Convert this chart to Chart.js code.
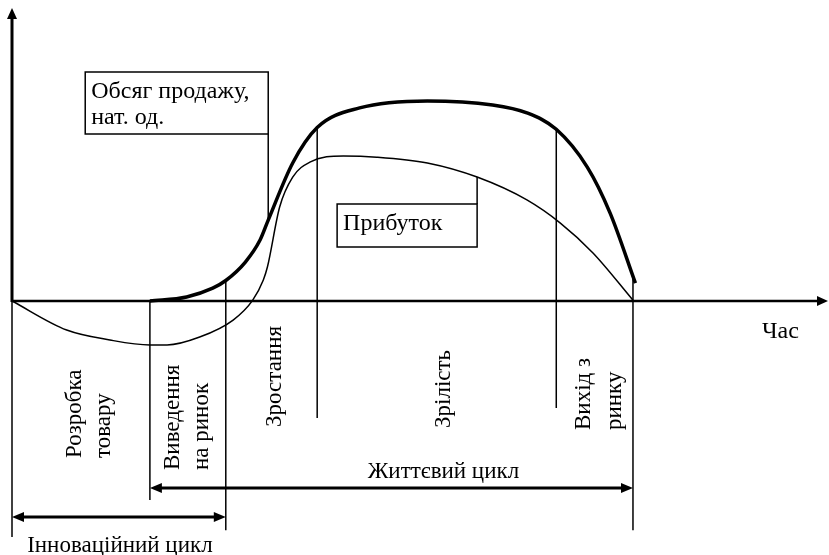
<!DOCTYPE html>
<html>
<head>
<meta charset="utf-8">
<script src="https://cdn.jsdelivr.net/npm/chart.js@4.4.0/dist/chart.umd.min.js"></script>
<style>
html, body { margin: 0; padding: 0; background: #fff; }
#wrap { width: 829px; height: 555px; }
</style>
</head>
<body>
<div id="wrap"><canvas id="mychart"></canvas></div>
<script>
// time in relative units, values in relative units (0 = time axis)
const salesTime   = [16.9, 21.4, 24.6, 26.2, 28.6, 30.4, 31.4, 34.4, 37.4, 42.6, 50.9, 58.9, 63.1, 66.7, 70.5, 73.3, 76.4];
const salesVolume = [0,    1.4,  4.4,  7.0,  13.3, 20.8, 27.6, 47.1, 59.2, 65.9, 68.3, 66.9, 64.2, 58.6, 45.7, 30.0, 6.1];

const profitTime  = [0,  6.7,  12.0,  16.9,  19.0,  23.0,  27.1, 29.5, 30.8, 31.3, 32.8, 34.4, 36.5, 40.6, 44.7, 50.9, 57.0, 63.1, 67.2, 71.2, 76.1];
const profitValue = [0, -9.9, -13.3, -15.0, -15.0, -12.3, -6.5, 0.3,  7.2,  11.6, 32.1, 42.3, 47.4, 49.5, 49.1, 47.1, 42.3, 34.5, 26.6, 16.4, 0.3];

const phaseBounds = [0, 16.9, 26.2, 37.4, 66.7, 76.1];
const phaseNames  = [['Розробка', 'товару'], ['Виведення', 'на ринок'], ['Зростання'], ['Зрілість'], ['Вихід з', 'ринку']];
const seriesNames = [['Обсяг продажу,', 'нат. од.'], ['Прибуток']];
const cycleNames  = ['Життєвий цикл', 'Інноваційний цикл'];
const axisName    = 'Час';

const toPoints = (xs, ys) => xs.map((t, i) => ({ x: t, y: ys[i] }));

const serif = px => px + 'px "Liberation Serif", "Times New Roman", serif';

const diagramPlugin = {
    id: 'lifeCycleDiagram',
    afterDatasetsDraw: (chart) => {
        const ctx = chart.ctx;
        const sx = chart.scales.x, sy = chart.scales.y;
        const X = v => sx.getPixelForValue(v);
        const Y = v => sy.getPixelForValue(v);

        const line = (x1, y1, x2, y2, w) => {
            ctx.lineWidth = w;
            ctx.beginPath();
            ctx.moveTo(x1, y1);
            ctx.lineTo(x2, y2);
            ctx.stroke();
        };
        // filled arrow head, dir = 'up' | 'right' | 'left'
        const head = (tx, ty, dir, len, half) => {
            ctx.beginPath();
            ctx.moveTo(tx, ty);
            if (dir === 'up') { ctx.lineTo(tx - half, ty + len); ctx.lineTo(tx + half, ty + len); }
            if (dir === 'right') { ctx.lineTo(tx - len, ty - half); ctx.lineTo(tx - len, ty + half); }
            if (dir === 'left') { ctx.lineTo(tx + len, ty - half); ctx.lineTo(tx + len, ty + half); }
            ctx.closePath();
            ctx.fill();
        };
        const salesAt = t => {
            for (let i = 1; i < salesTime.length; i++) {
                if (t <= salesTime[i]) {
                    const a = salesTime[i - 1], b = salesTime[i];
                    if (t < a) return 0;
                    return salesVolume[i - 1] + (salesVolume[i] - salesVolume[i - 1]) * (t - a) / (b - a);
                }
            }
            return 0;
        };

        ctx.save();
        ctx.strokeStyle = '#000';
        ctx.fillStyle = '#000';

        // axes
        line(X(0), Y(0) + 1, X(0), Y(100) + 8, 3);
        head(X(0), Y(100), 'up', 11, 5);
        line(X(0), Y(0), X(100) - 8, Y(0), 2.5);
        head(X(100), Y(0), 'right', 11, 5);

        // phase boundaries
        const bottoms = [-80.5, -67.9, -78.2, -39.9, -36.5, -78.2];
        phaseBounds.forEach((b, i) => {
            const top = Math.max(0, salesAt(b));
            line(X(b), Y(top), X(b), Y(bottoms[i]), 1.5);
        });

        // cycle arrows
        const yLife = -63.8, yInno = -73.7;
        line(X(phaseBounds[1]) + 8, Y(yLife), X(phaseBounds[5]) - 8, Y(yLife), 3);
        head(X(phaseBounds[1]), Y(yLife), 'left', 12, 5);
        head(X(phaseBounds[5]), Y(yLife), 'right', 12, 5);
        line(X(phaseBounds[0]) + 8, Y(yInno), X(phaseBounds[2]) - 8, Y(yInno), 3);
        head(X(phaseBounds[0]), Y(yInno), 'left', 12, 5);
        head(X(phaseBounds[2]), Y(yInno), 'right', 12, 5);

        ctx.font = serif(23);
        ctx.textBaseline = 'alphabetic';
        ctx.textAlign = 'center';
        ctx.fillText(cycleNames[0], (X(phaseBounds[1]) + X(phaseBounds[5])) / 2 + 52, Y(yLife) - 10);
        ctx.fillText(cycleNames[1], (X(phaseBounds[0]) + X(phaseBounds[2])) / 2 + 1, Y(yInno) + 35);
        ctx.textAlign = 'left';
        ctx.font = serif(24);
        ctx.fillText(axisName, X(91.9), Y(0) + 37);

        // phase names (rotated)
        ctx.font = serif(23);
        const nudge = [9, 0, 3, 7, 5];
        const starts = [458, 470, 427, 428, 430];
        const gap = [29, 29, 29, 29, 31];
        phaseNames.forEach((names, i) => {
            const cx = (X(phaseBounds[i]) + X(phaseBounds[i + 1])) / 2 + nudge[i];
            names.forEach((txt, j) => {
                const off = (j - (names.length - 1) / 2) * gap[i];
                ctx.save();
                ctx.translate(cx + off, starts[i]);
                ctx.rotate(-Math.PI / 2);
                ctx.textAlign = 'left';
                ctx.textBaseline = 'middle';
                ctx.fillText(txt, 0, 0);
                ctx.restore();
            });
        });

        // series labels in boxes with leader lines
        ctx.font = serif(24);
        const boxes = [
            { t: salesTime[6], v: salesVolume[6], w: 183, top: 72, h: 62, up: true },
            { t: profitTime[16], v: profitValue[16], w: 140, top: 204, h: 43, up: false }
        ];
        boxes.forEach((bx, i) => {
            const right = X(bx.t);
            const left = right - bx.w;
            ctx.lineWidth = 1.5;
            ctx.strokeRect(left, bx.top, bx.w, bx.h);
            if (bx.up) line(right, bx.top + bx.h, right, Y(bx.v), 1.5);
            else line(right, Y(bx.v), right, bx.top, 1.5);
            ctx.textAlign = 'left';
            ctx.textBaseline = 'alphabetic';
            seriesNames[i].forEach((txt, j) => {
                ctx.fillText(txt, left + 6, bx.top + 26 + j * 26);
            });
        });

        ctx.restore();
    }
};

const chart = new Chart(document.getElementById('mychart'), {
    type: 'line',
    data: {
        datasets: [{
            label: seriesNames[0].join(' '),
            data: toPoints(salesTime, salesVolume),
            borderColor: '#000',
            borderWidth: 3.5,
            pointRadius: 0,
            cubicInterpolationMode: 'monotone',
            clip: false
        }, {
            label: seriesNames[1].join(' '),
            data: toPoints(profitTime, profitValue),
            borderColor: '#000',
            borderWidth: 1.5,
            pointRadius: 0,
            cubicInterpolationMode: 'monotone',
            clip: false
        }]
    },
    options: {
        responsive: true,
        maintainAspectRatio: false,
        animation: false,
        layout: { padding: { left: 12, right: 1, top: 8, bottom: 13.7 } },
        scales: {
            x: { type: 'linear', min: 0, max: 100, display: false },
            y: { type: 'linear', min: -82, max: 100, display: false }
        },
        plugins: {
            legend: { display: false },
            tooltip: { enabled: false }
        }
    },
    plugins: [diagramPlugin]
});
</script>
</body>
</html>
